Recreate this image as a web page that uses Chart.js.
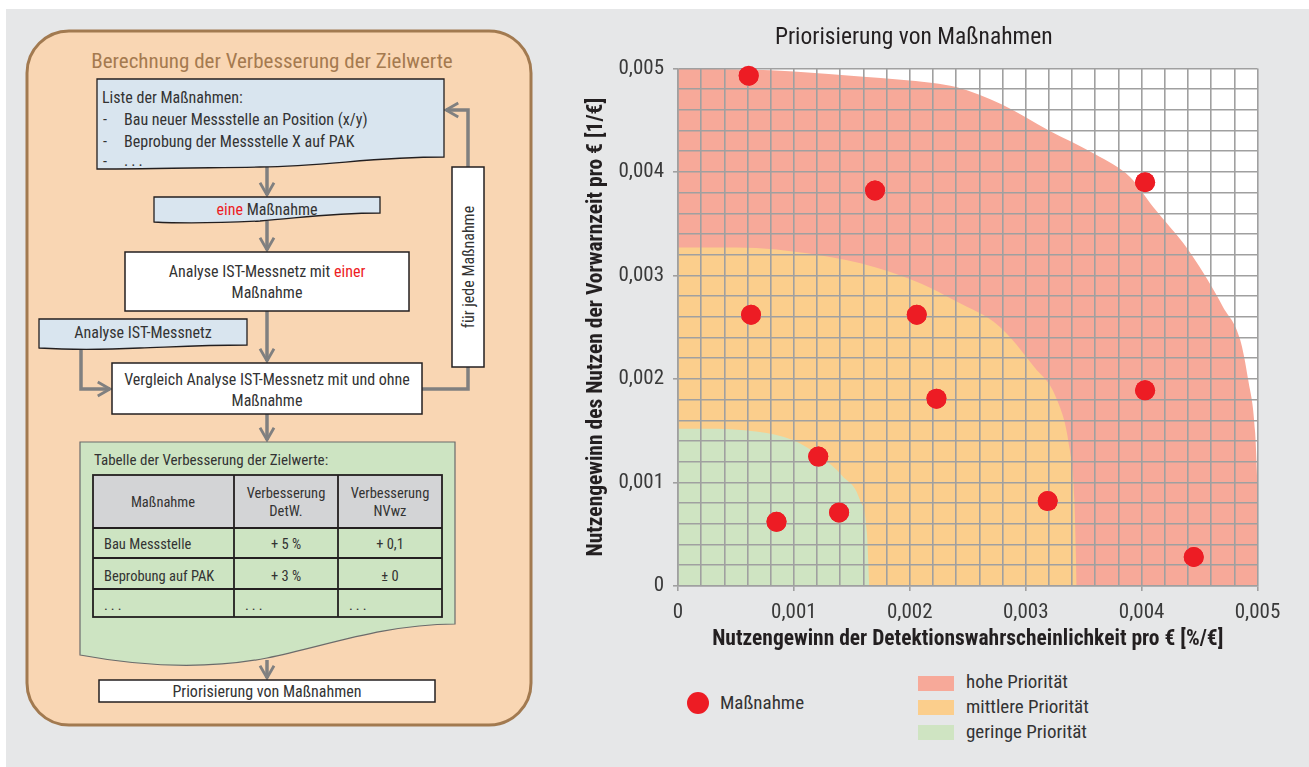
<!DOCTYPE html>
<html lang="de">
<head>
<meta charset="utf-8">
<title>Priorisierung von Maßnahmen</title>
<script src="https://cdn.jsdelivr.net/npm/chart.js@4.4.1/dist/chart.umd.min.js"></script>
<style>
  html, body { margin: 0; padding: 0; background: #fff; }
  body { width: 1309px; height: 767px; position: relative; overflow: hidden;
         font-family: 'Liberation Sans Narrow', 'Roboto Condensed', 'DejaVu Sans Condensed', 'Arial Narrow', sans-serif; }
  #bg { position: absolute; left: 6px; top: 9px; right: 0; bottom: 0; background: #e6e7e8; }
  #flow { position: absolute; left: 0; top: 0; }
  #flow text { font-family: inherit; fill: #333; }
  #chartBox { position: absolute; left: 570px; top: 20px; width: 720px; height: 649px; }
  .leg { position: absolute; color: #333; font-size: 19px; line-height: 20px; white-space: nowrap; }
  .sw { position: absolute; width: 36px; height: 15px; }
  .dot { position: absolute; width: 22px; height: 22px; border-radius: 50%; background: #ed1c24; }
</style>
</head>
<body>
<div id="bg"></div>

<!-- Ablaufschema links -->
<svg id="flow" width="560" height="767" xmlns="http://www.w3.org/2000/svg">
  <defs>
    <marker id="ah" viewBox="0 0 10 10" refX="8" refY="5" markerWidth="5" markerHeight="5" orient="auto">
      <path d="M1,1 L8,5 L1,9" fill="none" stroke="#808080" stroke-width="1.6"/>
    </marker>
  </defs>
  <rect x="27" y="31" width="504" height="694" rx="42" fill="#f9d6b3" stroke="#a27a50" stroke-width="3"/>
  <text x="272" y="68" text-anchor="middle" style="font-size:21px; fill:#a57a4f">Berechnung der Verbesserung der Zielwerte</text>

  <g stroke="#808080" stroke-width="3.5" fill="none" marker-end="url(#ah)">
    <path d="M267,165 V195"/>
    <path d="M267,221 V250"/>
    <path d="M267,311 V361"/>
    <path d="M81,347 V389 H110"/>
    <path d="M267,414 V440"/>
    <path d="M267,660 V678"/>
    <path d="M468,170 V110 H446"/>
  </g>
  <path d="M422,389 H468 V367" stroke="#808080" stroke-width="3.5" fill="none"/>

  <path d="M97,79 H444 V157 C370,157 330,166 260,167 C190,168 140,169 97,169 Z" fill="#d9e5ef" stroke="#231f20" stroke-width="1.3"/>
  <text x="102" y="103" style="font-size:16px">Liste der Maßnahmen:</text>
  <text x="103" y="125" style="font-size:16px">-</text>
  <text x="124" y="125" style="font-size:16px">Bau neuer Messstelle an Position (x/y)</text>
  <text x="103" y="147" style="font-size:16px">-</text>
  <text x="124" y="147" style="font-size:16px">Beprobung der Messstelle X auf PAK</text>
  <text x="103" y="167" style="font-size:16px">-</text>
  <text x="124" y="166" style="font-size:16px; letter-spacing:3px">...</text>

  <path d="M154,197 H380 V213 C330,213 300,218 260,221 C220,223 190,224 154,222 Z" fill="#d9e5ef" stroke="#231f20" stroke-width="1.3"/>
  <text x="267" y="215" text-anchor="middle" style="font-size:16px"><tspan style="fill:#ed1c24">eine</tspan> Maßnahme</text>

  <rect x="125" y="252" width="284" height="59" fill="#fff" stroke="#231f20" stroke-width="1.5"/>
  <text x="267" y="277" text-anchor="middle" style="font-size:16px">Analyse IST-Messnetz mit <tspan style="fill:#ed1c24">einer</tspan></text>
  <text x="267" y="298" text-anchor="middle" style="font-size:16px">Maßnahme</text>

  <path d="M39,319 H247 V345 C200,345 170,347 140,348 C100,350 70,350 39,348 Z" fill="#d9e5ef" stroke="#231f20" stroke-width="1.3"/>
  <text x="143" y="338" text-anchor="middle" style="font-size:16px">Analyse IST-Messnetz</text>

  <rect x="112" y="363" width="310" height="51" fill="#fff" stroke="#231f20" stroke-width="1.5"/>
  <text x="267" y="385" text-anchor="middle" style="font-size:16px">Vergleich Analyse IST-Messnetz mit und ohne</text>
  <text x="267" y="406" text-anchor="middle" style="font-size:16px">Maßnahme</text>

  <rect x="452" y="167" width="32" height="200" fill="#fff" stroke="#231f20" stroke-width="1.5"/>
  <text x="0" y="0" text-anchor="middle" transform="translate(474,267) rotate(-90)" style="font-size:16px">für jede Maßnahme</text>

  <path d="M80,442 H455 V624 C380,625 330,645 267,658 C210,669 150,668 80,655 Z" fill="#cde4c2" stroke="#6b6b6b" stroke-width="1.2"/>
  <text x="94" y="465" style="font-size:15px">Tabelle der Verbesserung der Zielwerte:</text>

  <rect x="93" y="475" width="349" height="53" fill="#d3d4d6"/>
  <g stroke="#231f20" stroke-width="1.8" fill="none">
    <rect x="93" y="475" width="349" height="142"/>
    <path d="M234,475 V617 M338,475 V617 M93,528 H442 M93,558 H442 M93,589 H442"/>
  </g>
  <g style="font-size:14.5px">
    <text x="163" y="507" text-anchor="middle">Maßnahme</text>
    <text x="286" y="498" text-anchor="middle">Verbesserung</text>
    <text x="286" y="516" text-anchor="middle">DetW.</text>
    <text x="390" y="498" text-anchor="middle">Verbesserung</text>
    <text x="390" y="516" text-anchor="middle">NVwz</text>
    <text x="104" y="549">Bau Messstelle</text>
    <text x="286" y="549" text-anchor="middle">+ 5 %</text>
    <text x="390" y="549" text-anchor="middle">+ 0,1</text>
    <text x="104" y="581">Beprobung auf PAK</text>
    <text x="286" y="581" text-anchor="middle">+ 3 %</text>
    <text x="390" y="581" text-anchor="middle">± 0</text>
    <text x="104" y="610" style="letter-spacing:3px">...</text>
    <text x="245" y="610" style="letter-spacing:3px">...</text>
    <text x="349" y="610" style="letter-spacing:3px">...</text>
  </g>

  <rect x="99" y="680" width="336" height="22" fill="#fff" stroke="#231f20" stroke-width="1.5"/>
  <text x="267" y="697" text-anchor="middle" style="font-size:16px">Priorisierung von Maßnahmen</text>
</svg>

<div id="chartBox"><canvas id="prio"></canvas></div>

<!-- Legende -->
<div class="dot" style="left:687px; top:692px"></div>
<div class="leg" style="left:720px; top:693px">Maßnahme</div>
<div class="sw" style="left:918px; top:676px; background:#f7a999"></div>
<div class="leg" style="left:966px; top:672px">hohe Priorität</div>
<div class="sw" style="left:918px; top:700px; background:#fbce8c"></div>
<div class="leg" style="left:966px; top:697px">mittlere Priorität</div>
<div class="sw" style="left:918px; top:725px; background:#cfe4c2"></div>
<div class="leg" style="left:966px; top:722px">geringe Priorität</div>

<script>
// Maßnahmen (x = Nutzengewinn DetW. pro €, y = Nutzengewinn Vorwarnzeit pro €)
var measureX = [0.00061, 0.00170, 0.00403, 0.00063, 0.00206, 0.00223, 0.00403, 0.00121, 0.00139, 0.00085, 0.00319, 0.00445];
var measureY = [0.00493, 0.00382, 0.00390, 0.00262, 0.00262, 0.00181, 0.00189, 0.00125, 0.00071, 0.00062, 0.00082, 0.00028];

// Grenzen der Prioritätsbereiche (oberer Rand)
var highX = [0, 0.0006, 0.0010, 0.0016, 0.0022, 0.0024, 0.0028, 0.0032, 0.0036, 0.0039, 0.0041, 0.0044, 0.0046, 0.0047, 0.00485, 0.00492, 0.00498, 0.005];
var highY = [0.00500, 0.00499, 0.00497, 0.00492, 0.00486, 0.00482, 0.00465, 0.00440, 0.00417, 0.00395, 0.00366, 0.00325, 0.00290, 0.00270, 0.00238, 0.00199, 0.00148, 0.00096];
var midX = [0, 0.0005, 0.0012, 0.0017, 0.0021, 0.0024, 0.00277, 0.00307, 0.00327, 0.00338, 0.00342, 0.00344];
var midY = [0.00327, 0.00327, 0.00320, 0.00308, 0.00292, 0.00275, 0.00251, 0.00212, 0.00180, 0.00132, 0.00083, 0];
var lowX = [0, 0.00022, 0.00069, 0.00099, 0.00123, 0.00142, 0.00157, 0.00163, 0.00165];
var lowY = [0.00152, 0.00152, 0.00149, 0.00141, 0.00125, 0.00106, 0.00083, 0.00051, 0];

var majorTicks = [0, 0.001, 0.002, 0.003, 0.004, 0.005];
var tickLabels = ['0', '0,001', '0,002', '0,003', '0,004', '0,005'];

var FONT = "'Liberation Sans Narrow', 'Roboto Condensed', 'DejaVu Sans Condensed', 'Arial Narrow', sans-serif";
Chart.defaults.font.family = FONT;
Chart.defaults.color = '#3a3a3a';

function pts(xs, ys) {
	var out = [];
	for (var i = 0; i < xs.length; i++) out.push({x: xs[i], y: ys[i]});
	return out;
}

function labelFor(v) {
	for (var i = 0; i < majorTicks.length; i++) {
		if (Math.abs(majorTicks[i] - v) < 1e-9) return tickLabels[i];
	}
	return '';
}

function region(label, xs, ys, color, order) {
	return {
		type: 'line', label: label, data: pts(xs, ys), order: order,
		backgroundColor: color, borderWidth: 0, borderColor: 'transparent',
		pointRadius: 0, fill: 'origin', cubicInterpolationMode: 'monotone'
	};
}

var gridColor = '#a0a0a0';
function axis(title, pad, fitFn) {
	return {
		type: 'linear', min: 0, max: 0.005,
		grid: {
			z: 1, color: gridColor, lineWidth: 1.6, tickLength: 5,
			tickColor: function(c) { return c.tick && labelFor(c.tick.value) !== '' ? gridColor : 'transparent'; }
		},
		border: {z: 1, color: gridColor, width: 1.6},
		ticks: {
			stepSize: 0.0002, maxTicksLimit: 30, autoSkip: false, maxRotation: 0, padding: 9,
			color: '#3a3a3a', font: {size: 21},
			callback: function(v) { return labelFor(v); }
		},
		title: {display: true, text: title, color: '#231f20', font: {size: 21.5, weight: 'bold'}, padding: pad},
		afterFit: fitFn
	};
}

// Hintergrund des Diagrammbereichs weiß, Punkte nach dem Gitter erneut zeichnen
var plotBg = {
	id: 'plotBg',
	beforeDatasetsDraw: function(chart) {
		var a = chart.chartArea, ctx = chart.ctx;
		ctx.save();
		ctx.fillStyle = '#ffffff';
		ctx.fillRect(a.left, a.top, a.right - a.left, a.bottom - a.top);
		ctx.restore();
	},
	afterDraw: function(chart) {
		chart.getDatasetMeta(0).controller.draw();
	}
};

var ctx = document.getElementById('prio').getContext('2d');
var chart = new Chart(ctx, {
	type: 'scatter',
	data: {
		datasets: [
			{label: 'Maßnahme', data: pts(measureX, measureY), order: 0,
			 backgroundColor: '#ed1c24', borderWidth: 0, pointRadius: 10, pointHoverRadius: 10},
			region('geringe Priorität', lowX, lowY, '#cfe4c2', 1),
			region('mittlere Priorität', midX, midY, '#fbce8c', 2),
			region('hohe Priorität', highX, highY, '#f7a999', 3)
		]
	},
	options: {
		responsive: true, maintainAspectRatio: false, animation: false, events: [],
		layout: {padding: {left: 0, right: 32.5, top: 0, bottom: 10}},
		plugins: {
			legend: {display: false}, tooltip: {enabled: false},
			title: {display: true, text: 'Priorisierung von Maßnahmen', color: '#231f20',
				font: {size: 23.5, weight: 'normal'}, padding: {top: 4, bottom: 16.2}}
		},
		scales: {
			x: axis('Nutzengewinn der Detektionswahrscheinlichkeit pro € [%/€]', {top: 0, bottom: 6.2},
				function(s) { s.height = 73; }),
			y: axis('Nutzengewinn des Nutzen der Vorwarnzeit pro € [1/€]', {top: 14.1, bottom: 0},
				function(s) { s.width = 108; })
		}
	},
	plugins: [plotBg]
});
</script>
</body>
</html>
